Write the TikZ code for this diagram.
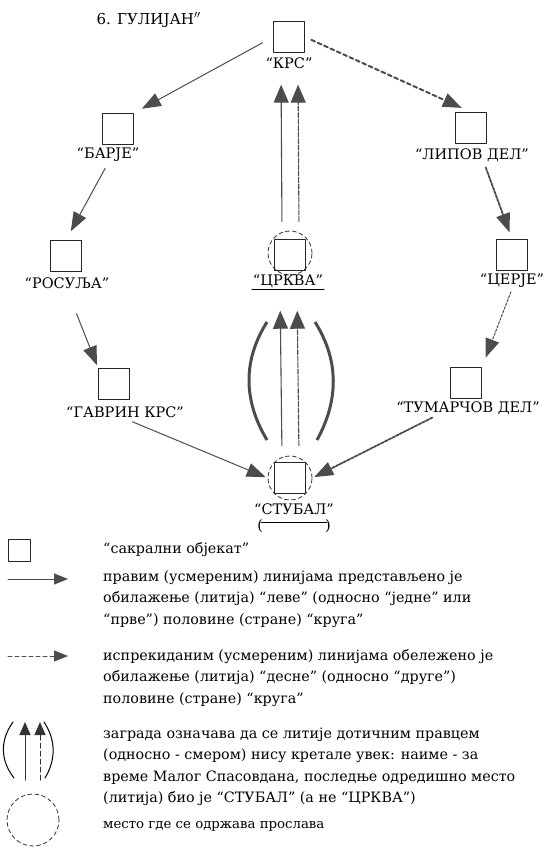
\documentclass[tikz,border=0pt]{standalone}
\usepackage{fontspec}
\setmainfont{DejaVu Serif}
\usetikzlibrary{arrows.meta,positioning}
\definecolor{ink}{gray}{0.3}

\begin{document}
\begin{tikzpicture}[x=1pt,y=-1pt,line cap=round,line join=round,
    >={Triangle[length=19pt,width=14pt]},
    obj/.style={draw=black!85,minimum size=31pt,inner sep=0pt,line width=0.9pt},
    lbl/.style={font=\fontsize{14.5}{16}\selectfont,inner sep=1pt},
    solidpath/.style={->,draw=ink,line width=1pt},
    dashpath/.style={->,draw=ink,line width=1.8pt,dash pattern=on 3pt off 1.2pt},
    upline/.style={->,draw=ink,line width=1.1pt,>={Triangle[length=18pt,width=15pt]}},
    feast/.style={draw=black!80,circle,dash pattern=on 4pt off 3pt,minimum size=44pt,inner sep=0pt,line width=0.8pt},
    bracket/.style={draw=ink,line width=3pt,line cap=butt},
    legend/.style={anchor=west,align=left,font=\fontsize{14.3}{21.5}\selectfont,inner sep=0pt}]
    \useasboundingbox (0,0) rectangle (549,848);
    \node[anchor=west,font=\fontsize{15}{17}\selectfont] (title) at (93,20) {6. ГУЛИЈАН$''$};
    \node[obj] (krs) at (289,37) {};
    \node[obj] (barje) at (118,129) {};
    \node[obj] (rosulja) at (66,256) {};
    \node[obj] (gavrin) at (114,384) {};
    \node[obj] (crkva) at (290,255) {};
    \node[obj] (lipov) at (471,128) {};
    \node[obj] (cerje) at (512,255) {};
    \node[obj] (tumarcov) at (466,383) {};
    \node[obj] (stubal) at (290,478) {};
    \node[feast] (crkvac) at (290,253) {};
    \node[feast] (stubalc) at (290,478) {};
    \node[lbl] (krsl) at (289,63) {“КРС”};
    \node[lbl] (barjel) at (108,155) {“БАРЈЕ”};
    \node[lbl] (rosuljal) at (67,283) {“РОСУЉА”};
    \node[lbl] (gavrinl) at (125,412) {“ГАВРИН КРС”};
    \node[lbl] (crkval) at (288,281) {“ЦРКВА”};
    \node[lbl] (lipovl) at (472,155) {“ЛИПОВ ДЕЛ”};
    \node[lbl] (cerjel) at (512,281) {“ЦЕРЈЕ”};
    \node[lbl] (tumarcovl) at (468,408) {“ТУМАРЧОВ ДЕЛ”};
    \node[lbl] (stuball) at (294,509) {“СТУБАЛ”};
    \node[lbl] (stubalp) at (294,526) {(\hspace{62pt})};
    \draw [line width=0.9pt] ([yshift=-1pt]crkval.south west)-- ([yshift=-1pt]crkval.south east);
    \draw [line width=0.9pt] ([xshift=5pt,yshift=4pt]stubalp.west)-- ([xshift=-5pt,yshift=4pt]stubalp.east);
    \draw [solidpath,shorten <=12pt,shorten >=9pt] (krs.west)-- (barje.north east);
    \draw [solidpath,shorten <=6pt,shorten >=10pt] (barjel.south)-- (rosulja.north);
    \draw [solidpath,shorten <=26pt,shorten >=3pt] (rosuljal.south)-- (gavrin.north west);
    \draw [solidpath,shorten <=8pt,shorten >=2pt] (gavrinl.south)-- (stubalc.west);
    \draw [dashpath,dash pattern=on 4pt off 3pt,line width=2pt,shorten <=7pt,shorten >=10pt] (krs.east)-- (lipov.north);
    \draw [dashpath,shorten <=5pt,shorten >=7pt] ([xshift=12pt]lipovl.south)-- (cerje.north);
    \draw [dashpath,line width=1pt,dash pattern=on 2.5pt off 1.5pt,shorten <=3pt,shorten >=10pt] (cerjel.south)-- (tumarcov.north east);
    \draw [dashpath,shorten <=4pt,shorten >=2pt] ([xshift=-32pt]tumarcovl.south)-- (stubalc.east);
    \draw [upline,shorten <=9pt,shorten >=15pt] ([xshift=-8pt]crkvac.north)-- ([xshift=-8pt]krsl.south);
    \draw [upline,dash pattern=on 5pt off 1.5pt,shorten <=9pt,shorten >=15pt] ([xshift=9pt]crkvac.north)-- ([xshift=9pt]krsl.south);
    \draw [upline,shorten <=10pt,shorten >=22pt] ([xshift=-8pt]stubalc.north)-- ([xshift=-8pt]crkval.south);
    \draw [upline,dash pattern=on 5pt off 1.5pt,shorten <=10pt,shorten >=22pt] ([xshift=9pt]stubalc.north)-- ([xshift=9pt]crkval.south);
    \draw [bracket] (267,322) .. controls (243,360) and (243,400) .. (267,440);
    \draw [bracket] (315,322) .. controls (339,360) and (339,400) .. (317,440);
    \node[obj,minimum size=22pt] (lsq) at (19,550) {};
    \node[legend] (ltx1) at (103,550) {“сакрални објекат”};
    \coordinate (la1) at (8,579);
    \coordinate (lb1) at (68,579);
    \draw [solidpath,>={Triangle[length=14pt,width=11pt]}] (la1)-- (lb1);
    \node[legend] (ltx2) at (103,599) {правим (усмереним) линијама представљено је\\обилажење (литија) “леве” (односно “једне” или\\“прве”) половине (стране) “круга”};
    \coordinate (la2) at (8,656);
    \coordinate (lb2) at (68,656);
    \draw [->,draw=ink,line width=1pt,dash pattern=on 4pt off 3pt,>={Triangle[length=14pt,width=11pt]}] (la2)-- (lb2);
    \node[legend] (ltx3) at (103,678) {испрекиданим (усмереним) линијама обележено је\\обилажење (литија) “десне” (односно “друге”)\\половине (стране) “круга”};
    \coordinate (la3) at (25,780);
    \coordinate (lb3) at (25,722);
    \coordinate (la4) at (40,780);
    \coordinate (lb4) at (40,722);
    \draw [->,draw=black!80,line width=1pt,>={Triangle[length=13pt,width=11pt]}] (la3)-- (lb3);
    \draw [->,draw=black!80,line width=1pt,dash pattern=on 5pt off 3pt,>={Triangle[length=13pt,width=11pt]}] (la4)-- (lb4);
    \draw [line width=1pt] (13,722) .. controls (0,740) and (0,760) .. (14,778);
    \draw [line width=1pt] (44,722) .. controls (56,740) and (56,760) .. (45,778);
    \node[legend] (ltx4) at (103,767) {заграда означава да се литије дотичним правцем\\(односно - смером) нису кретале увек: наиме - за\\време Малог Спасовдана, последње одредишно место\\(литија) био је “СТУБАЛ” (а не “ЦРКВА”)};
    \node[feast,minimum size=52pt] (lcirc) at (33,820) {};
    \node[legend,font=\fontsize{13.3}{15}\selectfont] (ltx5) at (103,826) {место где се одржава прослава};
\end{tikzpicture}
\end{document}
